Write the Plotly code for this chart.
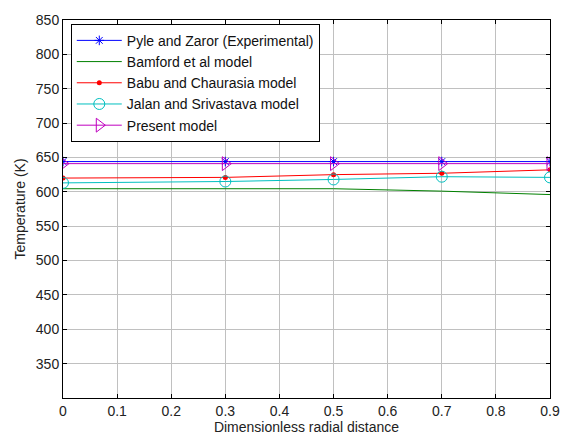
import plotly.graph_objects as go

x = [0, 0.3, 0.5, 0.7, 0.9]
pyle = [644, 644, 644, 644, 644]
bamford = [604.5, 604.5, 604.5, 601, 596]
babu = [620, 621, 625, 627, 632]
jalan = [613, 615, 618, 622, 621]
present = [641, 641, 641, 641, 641]

xticks = [0, 0.1, 0.2, 0.3, 0.4, 0.5, 0.6, 0.7, 0.8, 0.9]
yticks = [350, 400, 450, 500, 550, 600, 650, 700, 750, 800, 850]

FONT = "Arial, Liberation Sans"

fig = go.Figure()
fig.add_trace(go.Scatter(x=x, y=pyle, name="Pyle and Zaror (Experimental)", mode="lines+markers",
                         line=dict(color="#0000ff", width=1),
                         marker=dict(symbol="asterisk-open", size=8, color="#0000ff", line=dict(width=1, color="#0000ff"))))
fig.add_trace(go.Scatter(x=x, y=bamford, name="Bamford et al model", mode="lines",
                         line=dict(color="#008000", width=1)))
fig.add_trace(go.Scatter(x=x, y=babu, name="Babu and Chaurasia model", mode="lines+markers",
                         line=dict(color="#ff0000", width=1),
                         marker=dict(symbol="circle", size=5, color="#ff0000")))
fig.add_trace(go.Scatter(x=x, y=jalan, name="Jalan and Srivastava model", mode="lines+markers",
                         line=dict(color="#00bfbf", width=1),
                         marker=dict(symbol="circle-open", size=11, color="#00bfbf", line=dict(width=1, color="#00bfbf"))))
fig.add_trace(go.Scatter(x=x, y=present, name="Present model", mode="lines+markers",
                         line=dict(color="#bf00bf", width=1),
                         marker=dict(symbol="triangle-right-open", size=12, color="#bf00bf", line=dict(width=1, color="#bf00bf"))))

axis_common = dict(showline=True, linecolor="black", linewidth=1, mirror="allticks",
                   ticks="inside", ticklen=4, tickcolor="black",
                   showgrid=True, gridcolor="#c0c0c0", gridwidth=1, zeroline=False,
                   tickfont=dict(family=FONT, size=14, color="#222"))

fig.update_xaxes(range=[0, 0.9], tickvals=xticks, ticktext=[str(v) for v in xticks],
                 title=dict(text="Dimensionless radial distance", font=dict(family=FONT, size=14, color="#222"), standoff=4),
                 **axis_common)
fig.update_yaxes(range=[300, 850], tickvals=yticks,
                 title=dict(text="Temperature (K)", font=dict(family=FONT, size=14, color="#222"), standoff=6),
                 **axis_common)

fig.update_layout(
    width=572, height=445,
    margin=dict(l=63, r=14, t=15, b=43),
    plot_bgcolor="white", paper_bgcolor="white",
    showlegend=True,
    legend=dict(x=0.016, y=0.99, xanchor="left", yanchor="top",
                bgcolor="white", bordercolor="black", borderwidth=1,
                font=dict(family=FONT, size=14, color="#111"),
                tracegroupgap=0, itemwidth=45),
)

fig.write_html("out.html")
